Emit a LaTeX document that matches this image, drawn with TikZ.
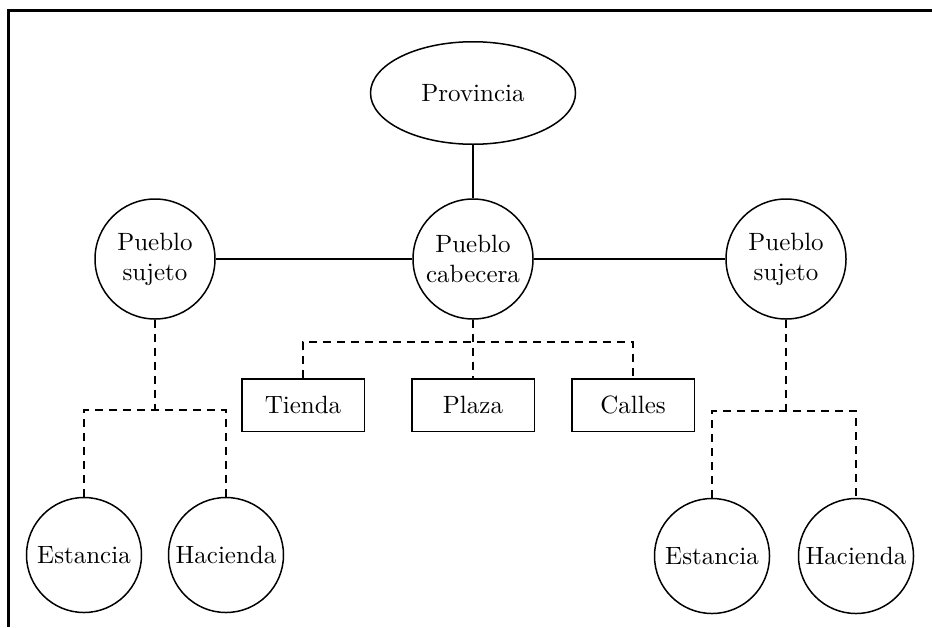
\documentclass[tikz,border=0pt]{standalone}
\usepackage{tikz}
\usetikzlibrary{shapes.geometric}

\begin{document}
\begin{tikzpicture}[x=0.4pt,y=-0.4pt,
        pueblo/.style={circle,draw,line width=0.6pt,minimum size=48pt,inner sep=0pt,align=center},
        finca/.style={circle,draw,line width=0.6pt,minimum size=46pt,inner sep=0pt},
        lugar/.style={rectangle,draw,line width=0.6pt,minimum width=49pt,minimum height=21pt,inner sep=0pt},
        enlace/.style={line width=0.8pt},
        ramal/.style={line width=0.8pt,dash pattern=on 3.2pt off 2.4pt}]
            \useasboundingbox (0,0) rectangle (932,627);

            % draw the frame
            \draw[line width=1.2pt] (8,627) -- (8,10) -- (932,10);

            % provincia
            \node[ellipse,draw,line width=0.6pt,minimum width=82pt,minimum height=41pt,inner sep=0pt] (prov) at (473,93) {Provincia};

            % pueblos
            \node[pueblo] (cab) at (473,259) {Pueblo\\cabecera};
            \node[pueblo] (sujL) at (155,259) {Pueblo\\sujeto};
            \node[pueblo] (sujR) at (786,259) {Pueblo\\sujeto};

            % tienda, plaza, calles
            \node[lugar] (tienda) at (303,405) {Tienda};
            \node[lugar] (plaza) at (473,405) {Plaza};
            \node[lugar] (calles) at (633,405) {Calles};

            % estancias y haciendas
            \node[finca] (estL) at (84,555) {Estancia};
            \node[finca] (hacL) at (226,555) {Hacienda};
            \node[finca] (estR) at (712,556) {Estancia};
            \node[finca] (hacR) at (856,556) {Hacienda};

            % junctions
            \coordinate (jM) at (473,342);
            \coordinate (jL) at (155,410);
            \coordinate (jR) at (786,411);

            % solid links
            \draw[enlace] (prov) -- (cab);
            \draw[enlace] (sujL) -- (cab);
            \draw[enlace] (cab) -- (sujR);

            % dashed links
            \draw[ramal] (cab) -- (jM) -- (plaza);
            \draw[ramal] (tienda) |- (jM) -| (calles);
            \draw[ramal] (sujL) -- (jL);
            \draw[ramal] (estL) |- (jL) -| (hacL);
            \draw[ramal] (sujR) -- (jR);
            \draw[ramal] (estR) |- (jR) -| (hacR);

        \end{tikzpicture}
\end{document}
